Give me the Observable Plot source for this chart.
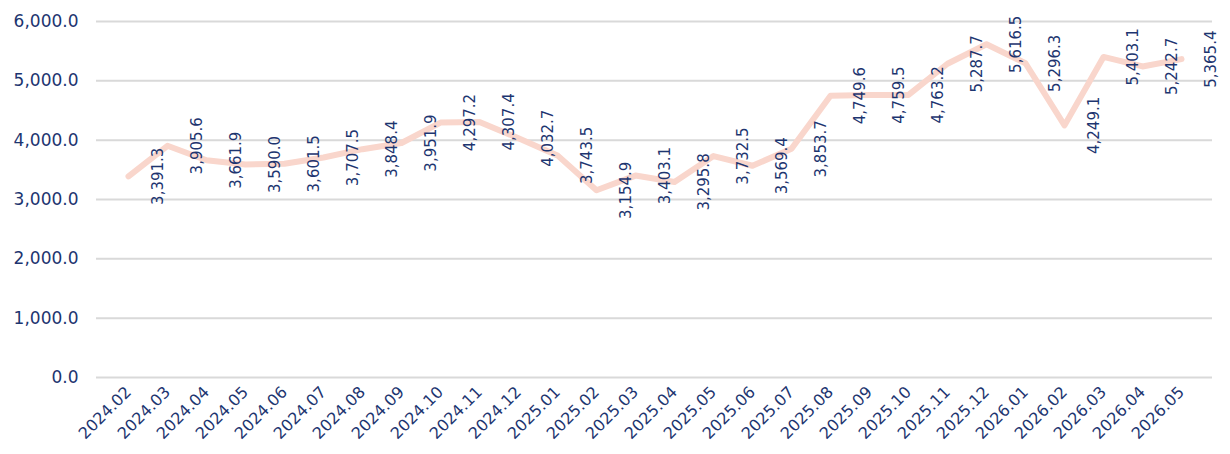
<!DOCTYPE html>
<html>
<head>
<meta charset="utf-8">
<script src="https://cdn.jsdelivr.net/npm/d3@7"></script>
<script src="https://cdn.jsdelivr.net/npm/@observablehq/plot@0.6"></script>
<style>
  html, body { margin: 0; padding: 0; background: #fff; }
  #chart { width: 1230px; height: 454px; }
</style>
</head>
<body>
<div id="chart"></div>
<script>
const months = ["2024.02","2024.03","2024.04","2024.05","2024.06","2024.07","2024.08","2024.09","2024.10","2024.11","2024.12",
  "2025.01","2025.02","2025.03","2025.04","2025.05","2025.06","2025.07","2025.08","2025.09","2025.10","2025.11","2025.12",
  "2026.01","2026.02","2026.03","2026.04","2026.05"];
const values = [3391.3,3905.6,3661.9,3590.0,3601.5,3707.5,3848.4,3951.9,4297.2,4307.4,4032.7,
  3743.5,3154.9,3403.1,3295.8,3732.5,3569.4,3853.7,4749.6,4759.5,4763.2,5287.7,5616.5,
  5296.3,4249.1,5403.1,5242.7,5365.4];
const yTicks = [0,1000,2000,3000,4000,5000,6000];

const data = months.map((m, i) => ({month: m, value: values[i]}));
const fmt = d3.format(",.1f");
const navy = "#1d3570";

const chart = Plot.plot({
  width: 1230,
  height: 454,
  marginLeft: 96,
  marginRight: 18,
  marginTop: 21,
  marginBottom: 77,
  style: {fontFamily: "'DejaVu Sans', sans-serif", background: "#fff"},
  x: {type: "point", domain: months, padding: 0.5, label: null},
  y: {domain: [0, 6000], label: null},
  marks: [
    Plot.ruleY(yTicks, {stroke: "#d9d9d9", strokeWidth: 2, strokeOpacity: 1}),
    Plot.axisY({ticks: yTicks, tickFormat: fmt, tickSize: 0, tickPadding: 18, fontSize: 17, color: navy, label: null}),
    Plot.axisX({tickSize: 0, tickRotate: -45, tickPadding: 12, fontSize: 16, color: navy, label: null}),
    Plot.line(data, {x: "month", y: "value", stroke: "#f9d6cc", strokeWidth: 6, strokeLinejoin: "round", strokeLinecap: "round"}),
    Plot.text(data, {x: "month", y: "value", text: d => fmt(d.value), rotate: -90, dx: 30, fill: navy, fontSize: 15, textAnchor: "middle"})
  ]
});
document.getElementById("chart").appendChild(chart);
</script>
</body>
</html>
